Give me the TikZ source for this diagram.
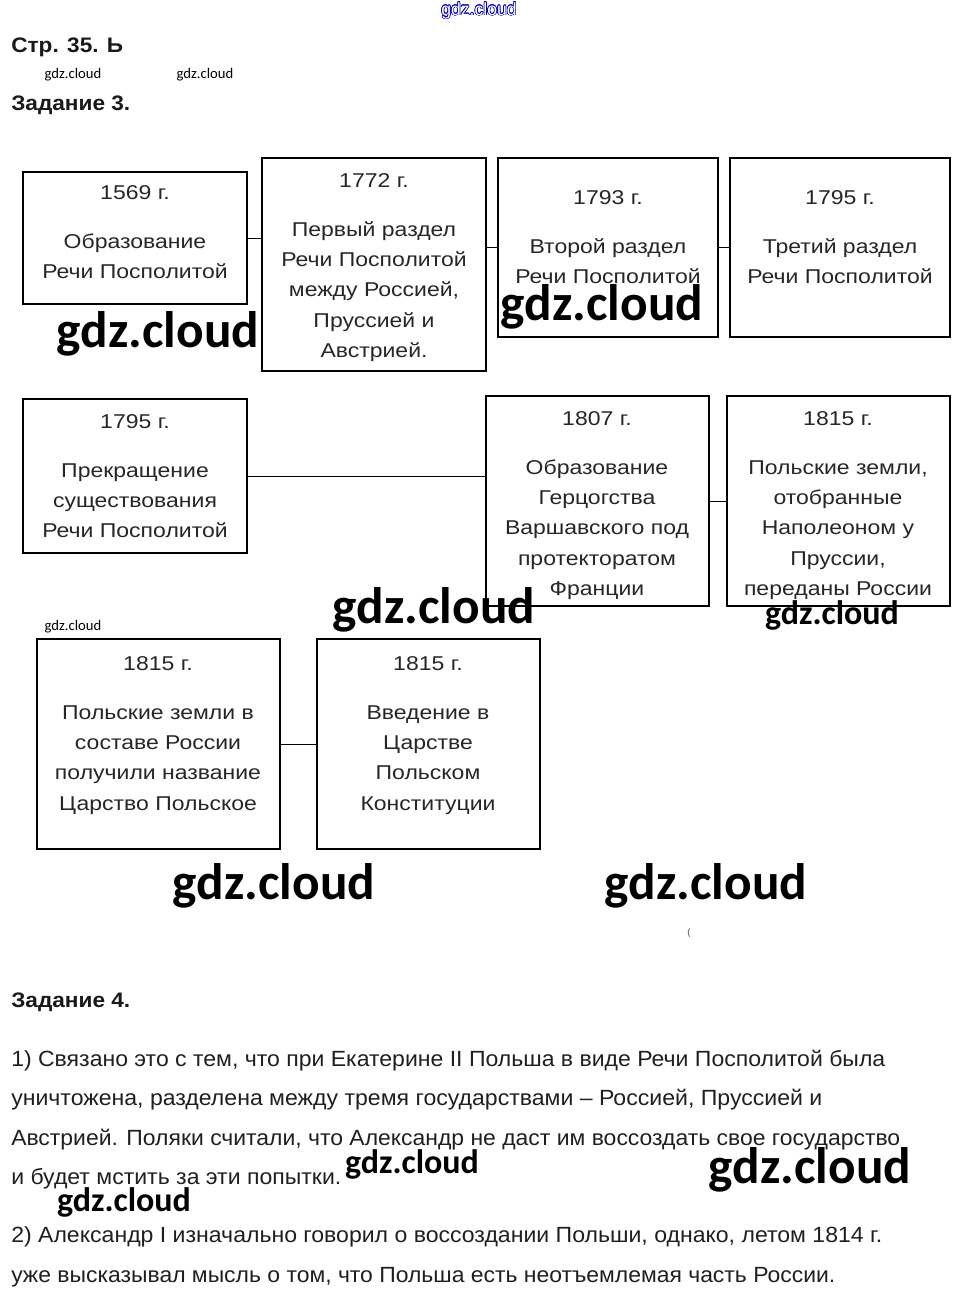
\documentclass[tikz,border=0pt]{standalone}
\usepackage{fontspec}
\setmainfont{Liberation Sans}
\newfontfamily\wmfont{Carlito}
\newfontfamily\boxfont[FakeStretch=1.15]{Liberation Sans}
\usepackage{graphicx}
\usepackage[copies]{contour}
\usetikzlibrary{fit}
\newcommand{\fitw}[2]{\resizebox{#1}{\height}{#2}}
\begin{document}
\begin{tikzpicture}[x=0.75pt,y=-0.75pt,
  box/.style={draw, line width=1.1pt, inner sep=0pt},
  link/.style={line width=0.75pt},
  txt/.style={font=\boxfont\fontsize{15}{22.6}\selectfont, align=center, anchor=north, inner sep=0pt, text=black!85},
  hdr/.style={font=\bfseries\fontsize{15.75}{18}\selectfont, anchor=base west, inner sep=0pt, text=black!90},
  para/.style={font=\fontsize{16.5}{18}\selectfont, anchor=base west, inner sep=0pt, text=black!88},
  wmbig/.style={font=\wmfont\bfseries\fontsize{38.5}{40}\selectfont, inner sep=0pt},
  wmmid/.style={font=\wmfont\bfseries\fontsize{25.5}{27}\selectfont, inner sep=0pt},
  wmsmall/.style={font=\wmfont\fontsize{11}{12}\selectfont, inner sep=0pt}]
\useasboundingbox (0,0) rectangle (959,1299);

% headers
\node[font=\fontsize{13.2}{14}\selectfont, inner sep=0pt] (wmtop) at (479,11) {\contourlength{0.45pt}\contour{blue!75!black}{\color{white}gdz.cloud}};
\node[hdr] (h1) at (11,52) {\fitw{84pt}{Стр. 35. Ь}};
\node[wmsmall] (w1) at (73,75) {gdz.cloud};
\node[wmsmall] (w2) at (205,75) {gdz.cloud};
\node[hdr] (h2) at (11,110) {\fitw{89.25pt}{Задание 3.}};

% row 1
\node[box, fit={(23,172) (247,304)}] (A) {};
\node[box, fit={(262,158) (486,371)}] (B) {};
\node[box, fit={(498,158) (718,337)}] (C) {};
\node[box, fit={(730,158) (950,337)}] (D) {};
\node[txt] (tA) at (135,185) {1569 г.\\[14.5pt]Образование\\Речи Посполитой};
\node[txt] (tB) at (374,173) {1772 г.\\[14.5pt]Первый раздел\\Речи Посполитой\\между Россией,\\Пруссией и\\Австрией.};
\node[txt] (tC) at (608,190) {1793 г.\\[14.5pt]Второй раздел\\Речи Посполитой};
\node[txt] (tD) at (840,190) {1795 г.\\[14.5pt]Третий раздел\\Речи Посполитой};
\draw[link] (A.east) -- (A.east -| B.west);
\draw[link] (C.west -| B.east) -- (C.west);
\draw[link] (C.east) -- (D.west);

% row 2
\node[box, fit={(23,399) (247,553)}] (E) {};
\node[box, fit={(486,396) (709,606)}] (F) {};
\node[box, fit={(727,396) (950,606)}] (G) {};
\node[txt] (tE) at (135,414) {1795 г.\\[14.5pt]Прекращение\\существования\\Речи Посполитой};
\node[txt] (tF) at (597,411) {1807 г.\\[14.5pt]Образование\\Герцогства\\Варшавского под\\протекторатом\\Франции};
\node[txt] (tG) at (838,411) {1815 г.\\[14.5pt]Польские земли,\\отобранные\\Наполеоном у\\Пруссии,\\переданы России};
\draw[link] (E.east) -- (E.east -| F.west);
\draw[link] (F.east) -- (G.west);

% row 3
\node[box, fit={(37,639) (280,849)}] (H) {};
\node[box, fit={(317,639) (540,849)}] (I) {};
\node[txt] (tH) at (158,656) {1815 г.\\[14.5pt]Польские земли в\\составе России\\получили название\\Царство Польское};
\node[txt] (tI) at (428,656) {1815 г.\\[14.5pt]Введение в\\Царстве\\Польском\\Конституции};
\draw[link] (H.east) -- (I.west);
\node[wmsmall] (w3) at (73,627) {gdz.cloud};

% big watermarks
\node[wmbig] (W1) at (158,334) {gdz.cloud};
\node[wmbig] (W2) at (602,307) {gdz.cloud};
\node[wmbig] (W3) at (434,610) {gdz.cloud};
\node[wmmid] (W4) at (832,615) {gdz.cloud};
\node[wmbig] (W5) at (274,886) {gdz.cloud};
\node[wmbig] (W6) at (706,886) {gdz.cloud};
\node[font=\fontsize{7}{8}\selectfont, text=black!70, inner sep=0pt] (paren) at (689,933) {(};

% task 4
\node[hdr] (h3) at (11,1007) {\fitw{89.25pt}{Задание 4.}};
\node[para] (p1) at (11,1066) {\fitw{655.5pt}{1) Связано это с тем, что при Екатерине II Польша в виде Речи Посполитой была}};
\node[para] (p2) at (11,1105) {\fitw{608.25pt}{уничтожена, разделена между тремя государствами – Россией, Пруссией и}};
\node[para] (p3) at (11,1145) {\fitw{666.75pt}{Австрией. Поляки считали, что Александр не даст им воссоздать свое государство}};
\node[para] (p4) at (11,1184) {\fitw{247.5pt}{и будет мстить за эти попытки.}};
\node[para] (p5) at (11,1242) {\fitw{653.25pt}{2) Александр I изначально говорил о воссоздании Польши, однако, летом 1814 г.}};
\node[para] (p6) at (11,1282) {\fitw{618pt}{уже высказывал мысль о том, что Польша есть неотъемлемая часть России.}};
\node[wmmid] (W7) at (412,1164) {gdz.cloud};
\node[wmbig] (W8) at (810,1170) {gdz.cloud};
\node[wmmid] (W9) at (124,1202) {gdz.cloud};
\end{tikzpicture}
\end{document}
